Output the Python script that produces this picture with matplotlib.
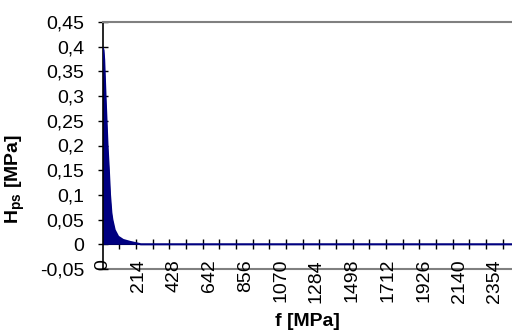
import matplotlib
matplotlib.use("Agg")
import matplotlib.pyplot as plt
from matplotlib.ticker import FixedLocator, FixedFormatter

plt.rcParams['font.family'] = ['Liberation Sans', 'DejaVu Sans']
plt.rcParams['mathtext.fontset'] = 'custom'
plt.rcParams['mathtext.rm'] = 'Liberation Sans'
plt.rcParams['mathtext.bf'] = 'Liberation Sans:bold'

# data (f in MPa, H_ps in MPa)
f_vals = [0, 6, 10, 18, 24, 30, 38, 45, 53, 59, 73, 94, 124, 164, 230, 2470]
h_vals = [0.397, 0.393, 0.373, 0.30, 0.25, 0.20, 0.15, 0.10, 0.064, 0.05,
          0.029, 0.0155, 0.0088, 0.005, 0.0, 0.0]

x_label_pos = [0, 214, 428, 642, 856, 1070, 1284, 1498, 1712, 1926, 2140, 2354]
x_label_txt = ['0', '214', '428', '642', '856', '1070', '1284', '1498', '1712', '1926', '2140', '2354']
x_tick_marks = [100, 200, 300, 400, 500, 600, 700, 800, 900, 1000, 1100, 1200,
                1300, 1400, 1500, 1600, 1700, 1800, 1900, 2000, 2100, 2200, 2300, 2400]
y_tick_pos = [-0.05, 0, 0.05, 0.1, 0.15, 0.2, 0.25, 0.3, 0.35, 0.4, 0.45]
y_tick_txt = ['-0,05', '0', '0,05', '0,1', '0,15', '0,2', '0,25', '0,3', '0,35', '0,4', '0,45']

navy = '#000080'
fs = 14

fig = plt.figure(figsize=(5.12, 3.31), dpi=100)
ax = fig.add_axes([102.5 / 512, 1 - 269 / 331, 1 - 102.5 / 512, 247 / 331])

ax.fill_between(f_vals, h_vals, 0, color=navy, linewidth=0, zorder=2)
ax.plot(f_vals, h_vals, color=navy, linewidth=1.5, zorder=3)

ax.set_xlim(0, 2457)
ax.set_ylim(-0.05, 0.45)

ax.spines['right'].set_visible(False)
ax.spines['top'].set_color('#808080')
ax.spines['top'].set_linewidth(1.5)
ax.spines['bottom'].set_position(('data', 0))
ax.spines['bottom'].set_color('black')
ax.spines['bottom'].set_zorder(1)
ax.spines['left'].set_color('black')
ax.spines['left'].set_linewidth(1.2)
ax.axhline(-0.05, color='#808080', linewidth=1.5, clip_on=False, zorder=1)

ax.xaxis.set_major_locator(FixedLocator(x_label_pos))
ax.xaxis.set_major_formatter(FixedFormatter(x_label_txt))
ax.xaxis.set_minor_locator(FixedLocator(x_tick_marks))
ax.tick_params(axis='x', which='major', length=0, pad=10.5, labelsize=fs, labelrotation=90)
ax.tick_params(axis='x', which='minor', direction='inout', length=7.2, width=1, color='black')

ax.yaxis.set_major_locator(FixedLocator(y_tick_pos))
ax.yaxis.set_major_formatter(FixedFormatter(y_tick_txt))
ax.tick_params(axis='y', which='major', direction='inout', length=7.2, width=1, pad=9.6, labelsize=fs)

ax.set_xlabel('f [MPa]', fontsize=fs, fontweight='bold')
ax.xaxis.set_label_coords(307 / 512, 1 / 331, transform=fig.transFigure)
ax.xaxis.label.set_verticalalignment('bottom')

ax.set_ylabel(r'H$_{\mathbf{ps}}$ [MPa]', fontsize=fs, fontweight='bold')
ax.yaxis.set_label_coords(15 / 512, 152 / 331, transform=fig.transFigure)
ax.yaxis.label.set_verticalalignment('center')

fig.savefig('out.png', dpi=100)
